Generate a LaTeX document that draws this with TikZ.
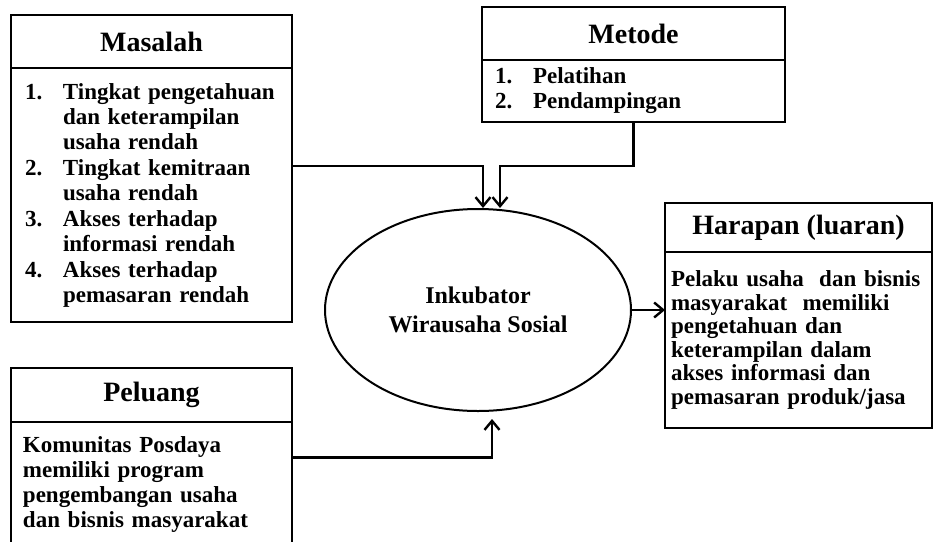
\documentclass[tikz,border=0pt]{standalone}
\usepackage{fontspec}
\setmainfont{Liberation Serif}
\usetikzlibrary{arrows.meta,positioning,shapes.geometric}

\tikzset{
  boxline/.style={draw, line width=2.4pt, rectangle, inner sep=0pt, outer sep=0pt},
  headbox/.style={boxline, anchor=north west, font=\bfseries\fontsize{28}{30}\selectfont},
  bodybox/.style={boxline, anchor=north, align=left, font=\bfseries\fontsize{23}{25}\selectfont},
  link/.style={line width=2.4pt, -{Straight Barb[length=9pt,width=15pt]}},
}

\begin{document}
\begin{tikzpicture}[x=1pt,y=-1pt]
  \clip (0,0) rectangle (934,541);
  % Masalah
  \node[headbox, minimum width=281pt, minimum height=53pt] (masalahHead) at (11,15) {Masalah};
  \node[bodybox, minimum height=254pt, inner xsep=14pt, text width=253pt] (masalahBody) at (masalahHead.south)
    {\makebox[38pt][l]{1.}Tingkat pengetahuan\\ \hspace*{38pt}dan keterampilan\\ \hspace*{38pt}usaha rendah\\[1pt]
     \makebox[38pt][l]{2.}Tingkat kemitraan\\ \hspace*{38pt}usaha rendah\\[1pt]
     \makebox[38pt][l]{3.}Akses terhadap\\ \hspace*{38pt}informasi rendah\\[1pt]
     \makebox[38pt][l]{4.}Akses terhadap\\ \hspace*{38pt}pemasaran rendah};
  % Metode
  \node[headbox, minimum width=303pt, minimum height=53pt] (metodeHead) at (482,7) {Metode};
  \node[bodybox, minimum height=62pt, inner xsep=13pt, text width=277pt] (metodeBody) at (metodeHead.south)
    {\makebox[38pt][l]{1.}Pelatihan\\ \makebox[38pt][l]{2.}Pendampingan};
  % Harapan
  \node[headbox, minimum width=267pt, minimum height=49pt] (harapanHead) at (665,203) {Harapan (luaran)};
  \node[bodybox, minimum height=176pt, inner xsep=6pt, text width=255pt, font=\bfseries\fontsize{23}{23.5}\selectfont] (harapanBody) at (harapanHead.south)
    {Pelaku usaha\ \ dan bisnis\\ masyarakat\ \ memiliki\\ pengetahuan dan\\ keterampilan dalam\\ akses informasi dan\\ pemasaran produk/jasa};
  % Peluang
  \node[headbox, minimum width=281pt, minimum height=54pt] (peluangHead) at (11,368) {Peluang};
  \node[bodybox, minimum height=125pt, inner xsep=12pt, text width=257pt] (peluangBody) at (peluangHead.south)
    {Komunitas Posdaya\\ memiliki program\\ pengembangan usaha\\ dan bisnis masyarakat};
  % Inkubator
  \node[ellipse, draw, line width=2pt, minimum width=306pt, minimum height=202pt, align=center,
        font=\bfseries\fontsize{24}{29}\selectfont] (inkubator) at (478,310) {Inkubator\\Wirausaha Sosial};
  % connectors
  \draw[link] ([yshift=29pt]masalahBody.east) -| ([xshift=5pt]inkubator.north);
  \draw[link] (metodeBody.south) -- ++(0,44) -| ([xshift=22pt]inkubator.north);
  \draw[link] ([yshift=27pt]peluangBody.east) -| ([xshift=14pt,yshift=-7pt]inkubator.south);
  \draw[link] (inkubator.east) -- (inkubator.east -| harapanBody.west);
\end{tikzpicture}
\end{document}
